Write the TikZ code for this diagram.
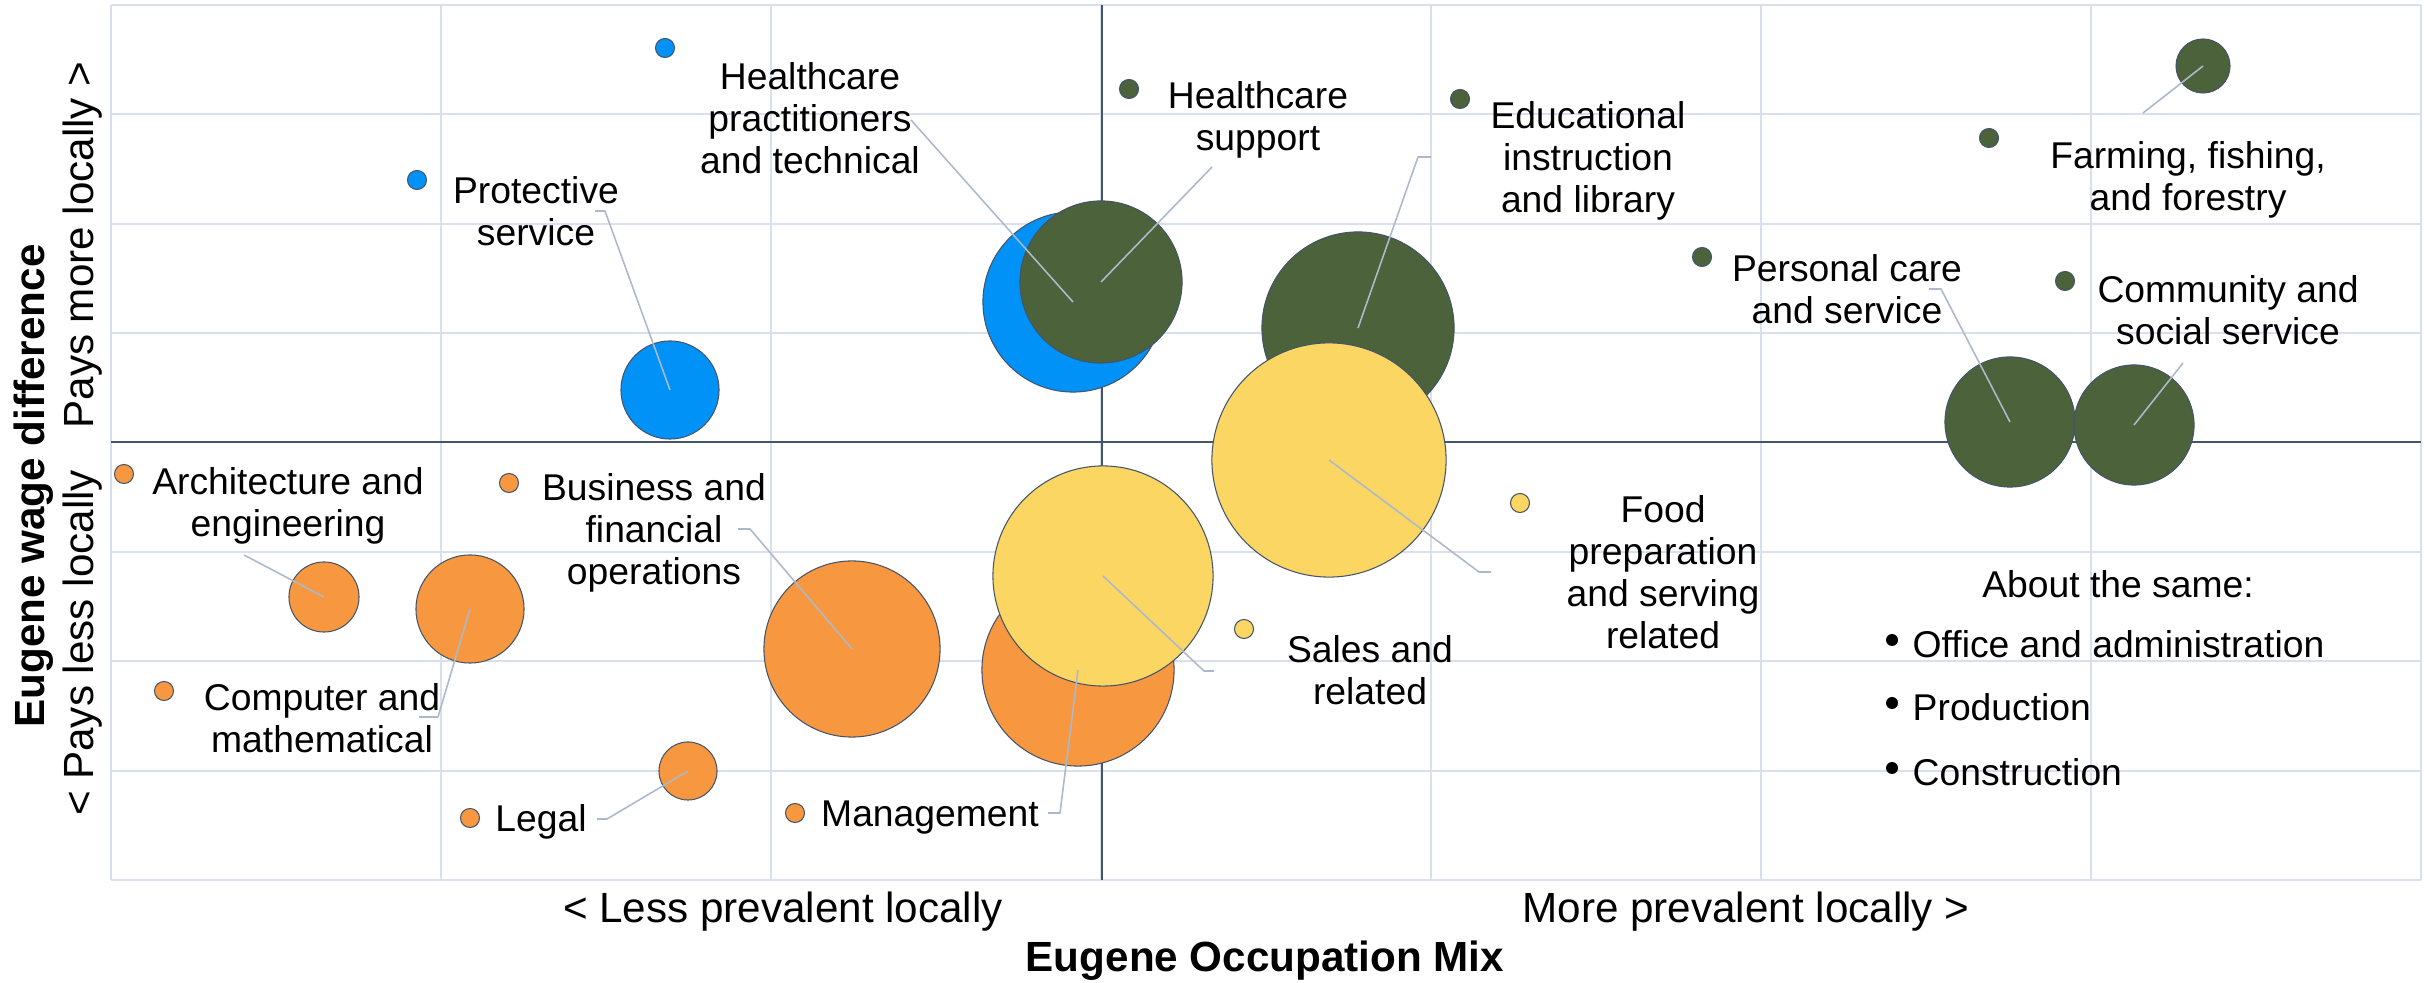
\documentclass[tikz,border=0pt]{standalone}
\usepackage{fontspec}
\setmainfont{Liberation Sans}
\definecolor{bblue}{HTML}{0092F7}
\definecolor{bgreen}{HTML}{4B623A}
\definecolor{borange}{HTML}{F79840}
\definecolor{byellow}{HTML}{FBD662}
\definecolor{rimc}{HTML}{44546A}
\definecolor{leadc}{HTML}{ADB9CA}
\definecolor{gridc}{HTML}{D9DFEC}

\begin{document}
\begin{tikzpicture}[
    x={(0.01cm,0cm)},
    y={(0cm,-0.01cm)},
    line join=round,
    gridline/.style={draw=gridc,line width=0.55pt},
    axisline/.style={draw=rimc,line width=0.5pt},
    bubble/.style={circle,draw=rimc,line width=0.3pt,inner sep=0pt,minimum size=#1*0.02cm},
    keydot/.style={circle,draw=rimc,line width=0.3pt,inner sep=0pt,minimum size=0.19cm},
    leader/.style={draw=leadc,line width=0.45pt},
    lbl/.style={font=\fontsize{10.6}{11.9}\selectfont,align=center,inner sep=0pt},
    axlbl/.style={font=\fontsize{12}{14}\selectfont,inner sep=0pt}
  ]
  \useasboundingbox (0,0) rectangle (2430,983);

  % grid and axes
  \foreach \i in {0,...,7}
    \draw[gridline] (111+330*\i,5) -- (111+330*\i,880);
  \foreach \j in {0,...,8}
    \draw[gridline] (111,5+109.375*\j) -- (2421,5+109.375*\j);
  \draw[axisline] (1102,5) -- (1102,880);
  \draw[axisline] (111,442) -- (2421,442);

  % bubbles, back to front
  \foreach \n/\c/\x/\y/\r in {
      prot/bblue/670/390/49, hcprac/bblue/1073/302/90,
      hcsup/bgreen/1101/282/81, educ/bgreen/1358/328/96,
      farm/bgreen/2203/66/27, perscare/bgreen/2010/422/65,
      commun/bgreen/2134/425/60,
      arch/borange/324/597/35, comp/borange/470/609/54,
      busin/borange/852/649/88, legal/borange/688/771/29,
      mgmt/borange/1078/670/96,
      sales/byellow/1103/576/110, food/byellow/1329/460/117}
    \node[bubble=\r,fill=\c] (b-\n) at (\x,\y) {};

  % key dots beside the labels
  \foreach \n/\c/\x/\y in {
      hcprac/bblue/665/48, prot/bblue/417/180,
      hcsup/bgreen/1129/89, educ/bgreen/1460/99, farm/bgreen/1989/138,
      perscare/bgreen/1702/257, commun/bgreen/2065/281,
      arch/borange/124/474, busin/borange/509/483, comp/borange/164/691,
      legal/borange/470/818, mgmt/borange/795/813,
      sales/byellow/1244/629, food/byellow/1520/503}
    \node[keydot,fill=\c] (d-\n) at (\x,\y) {};

  % labels
  \node[lbl] (l-prot) at (536,211) {Protective\\service};
  \node[lbl] (l-hcprac) at (810,118) {Healthcare\\practitioners\\and technical};
  \node[lbl] (l-hcsup) at (1258,120) {Healthcare\\support};
  \node[lbl] (l-educ) at (1588,161) {Educational\\instruction\\and library};
  \node[lbl] (l-farm) at (2188,180) {Farming, fishing,\\and forestry};
  \node[lbl] (l-perscare) at (1847,289) {Personal care\\and service};
  \node[lbl] (l-commun) at (2228,310) {Community and\\social service};
  \node[lbl] (l-arch) at (288,506) {Architecture and\\engineering};
  \node[lbl] (l-comp) at (322,718) {Computer and\\mathematical};
  \node[lbl] (l-busin) at (654,533) {Business and\\financial\\operations};
  \node[lbl] (l-legal) at (541,822) {Legal};
  \node[lbl] (l-mgmt) at (930,818) {Management};
  \node[lbl] (l-sales) at (1370,670) {Sales and\\related};
  \node[lbl] (l-food) at (1663,572) {Food\\preparation\\and serving\\related};

  % leader lines
  \foreach \n/\bx/\by/\ex/\ey in {
      prot/605/211/595/211, hcprac/911/120/911/120,
      hcsup/1212/167/1212/167, educ/1418/157/1431/157,
      farm/2143/113/2143/113, perscare/1941/289/1929/289,
      commun/2183/363/2183/363, arch/244/555/244/555,
      comp/438/717/419/717, busin/750/529/738/529,
      legal/607/819/597/819, mgmt/1060/813/1048/813,
      sales/1204/671/1214/671, food/1479/572/1491/572}
    \draw[leader] (b-\n.center) -- (\bx,\by) -- (\ex,\ey);

  % about the same
  \node[lbl] (same) at (2118,584) {About the same:};
  \foreach \t/\y in {Office and administration/644, Production/707, Construction/772}
    \fill (1892,\y-4) circle[radius=6]
      node[lbl,anchor=west] (s-\y) at (1912,\y) {\t};

  % axis titles
  \node[axlbl] (xless) at (783,912) {< Less prevalent locally};
  \node[axlbl] (xmore) at (1746,912) {More prevalent locally >};
  \node[axlbl,font=\fontsize{12}{14}\selectfont\bfseries] (xtitle) at (1265,961) {Eugene Occupation Mix};
  \node[axlbl,rotate=90,font=\fontsize{12}{14}\selectfont\bfseries] (ytitle) at (34,486) {Eugene wage difference};
  \node[axlbl,rotate=90] (ymore) at (83,245) {Pays more locally >};
  \node[axlbl,rotate=90] (yless) at (83,643) {< Pays less locally};
\end{tikzpicture}
\end{document}
